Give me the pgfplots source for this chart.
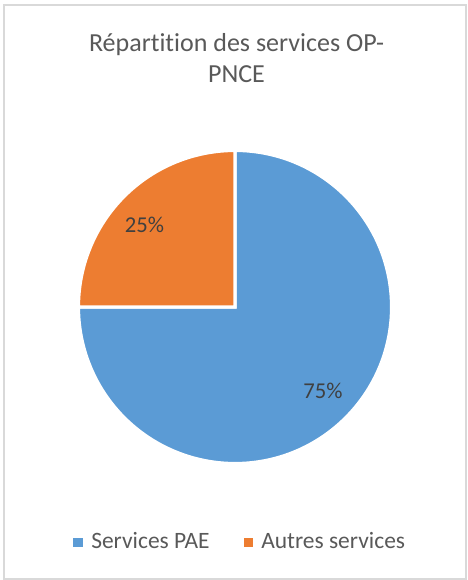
\documentclass[border=0pt]{standalone}
\usepackage{pgfplots}
\pgfplotsset{compat=1.18}
\usepackage{fontspec}
\setmainfont[Ligatures={NoCommon}]{Carlito}
\definecolor{pieblue}{HTML}{5B9BD5}
\definecolor{pieorange}{HTML}{ED7D31}
\definecolor{txtgray}{HTML}{595959}
\definecolor{lblgray}{HTML}{404040}
\definecolor{bordergray}{HTML}{D9D9D9}
% data (percent)
\def\valPAE{75}
\def\valAutres{25}
\begin{document}
\begin{tikzpicture}
\begin{axis}[
  x=0.75pt, y=0.75pt,
  xmin=0, xmax=467, ymin=0, ymax=580,
  hide axis, clip=false, scale only axis,
]
\path (axis cs:0,0) rectangle (axis cs:467,580);
\draw[bordergray, line width=1.5pt] (axis cs:4,1.2) rectangle (axis cs:465.6,575.2);
% pie slices (start at 12 o'clock, clockwise)
\filldraw[fill=pieblue, draw=white, line width=2.4pt, line join=miter]
  (axis cs:235,273) -- ++(90:117.4pt)
  arc[start angle=90, end angle={90-3.6*\valPAE}, radius=117.4pt] -- cycle;
\filldraw[fill=pieorange, draw=white, line width=2.4pt, line join=miter]
  (axis cs:235,273) -- ++({90-3.6*\valPAE}:117.4pt)
  arc[start angle={90-3.6*\valPAE}, end angle={90-3.6*(\valPAE+\valAutres)}, radius=117.4pt] -- cycle;
% data labels
\node[anchor=base, inner sep=0pt, text=lblgray, font=\fontsize{17}{20}\selectfont] at (axis cs:144.5,347) {25\%};
\node[anchor=base, inner sep=0pt, text=lblgray, font=\fontsize{17}{20}\selectfont] at (axis cs:323,181) {75\%};
% title
\node[anchor=base, inner sep=0pt, text=txtgray, font=\fontsize{19.5}{23}\selectfont] at (axis cs:236.5,528) {Répartition des services OP-};
\node[anchor=base, inner sep=0pt, text=txtgray, font=\fontsize{19.5}{23}\selectfont] at (axis cs:236.5,497) {PNCE};
% legend
\fill[pieblue] (axis cs:73.3,33.3) rectangle (axis cs:82.7,42);
\node[anchor=base west, inner sep=0pt, text=txtgray, font=\fontsize{17.6}{21}\selectfont] at (axis cs:91,31.7) {Services PAE};
\fill[pieorange] (axis cs:244.3,33.3) rectangle (axis cs:253.3,42);
\node[anchor=base west, inner sep=0pt, text=txtgray, font=\fontsize{17.6}{21}\selectfont] at (axis cs:261,31.7) {Autres services};
\end{axis}
\end{tikzpicture}
\end{document}
